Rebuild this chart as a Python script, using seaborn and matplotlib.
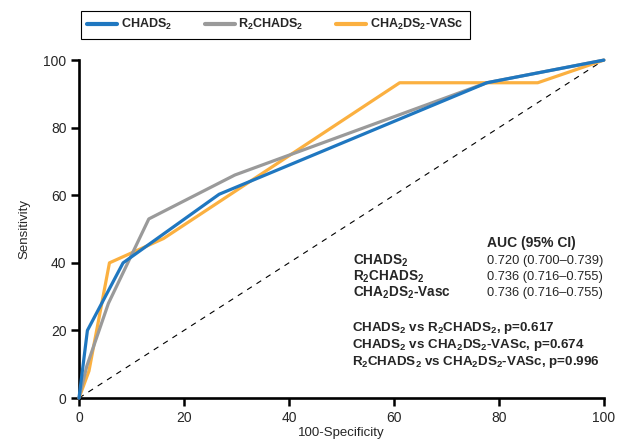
import numpy as np
import pandas as pd
import matplotlib
matplotlib.use("Agg")
import matplotlib.pyplot as plt
import seaborn as sns

#%% data
chads_x = [0, 1.6, 8.4, 26.7, 77.7, 100]
chads_y = [0, 20, 40, 60.3, 93.3, 100]

r2chads_x = [0, 1.5, 5.6, 13.3, 29.7, 77.7, 100]
r2chads_y = [0, 9.5, 28, 53, 66, 93.3, 100]

vasc_x = [0, 1.9, 5.8, 16.1, 61.1, 87.4, 100]
vasc_y = [0, 8, 40, 47.2, 93.3, 93.3, 100]

auc_labels = ["CHADS$_\\mathbf{2}$", "R$_\\mathbf{2}$CHADS$_\\mathbf{2}$", "CHA$_\\mathbf{2}$DS$_\\mathbf{2}$-Vasc"]
auc_values = ["0.720 (0.700\u20130.739)", "0.736 (0.716\u20130.755)", "0.736 (0.716\u20130.755)"]
comparisons = [
    "CHADS$_\\mathbf{2}$ vs R$_\\mathbf{2}$CHADS$_\\mathbf{2}$, p=0.617",
    "CHADS$_\\mathbf{2}$ vs CHA$_\\mathbf{2}$DS$_\\mathbf{2}$-VASc, p=0.674",
    "R$_\\mathbf{2}$CHADS$_\\mathbf{2}$ vs CHA$_\\mathbf{2}$DS$_\\mathbf{2}$-VASc, p=0.996",
]

series_names = ["CHADS$_\\mathbf{2}$", "R$_\\mathbf{2}$CHADS$_\\mathbf{2}$", "CHA$_\\mathbf{2}$DS$_\\mathbf{2}$-VASc"]
colors = ["#1f77c0", "#9a9a9a", "#fbb040"]

#%% style
sns.set_style("ticks")
plt.rcParams["font.family"] = ["Liberation Sans", "DejaVu Sans"]
plt.rcParams["mathtext.fontset"] = "custom"
plt.rcParams["mathtext.rm"] = "Liberation Sans"
plt.rcParams["mathtext.bf"] = "Liberation Sans:bold"

fig = plt.figure(figsize=(6.29, 4.42), dpi=100)
ax = fig.add_axes([0.1256, 0.0995, 0.8344, 0.7645])

df_chads = pd.DataFrame({"x": chads_x, "y": chads_y})
df_r2 = pd.DataFrame({"x": r2chads_x, "y": r2chads_y})
df_vasc = pd.DataFrame({"x": vasc_x, "y": vasc_y})

# reference line
ax.plot([0, 100], [0, 100], color="black", lw=0.8, linestyle=(0, (5, 5)), zorder=1)

# draw order: orange, gray, blue on top
sns.lineplot(data=df_vasc, x="x", y="y", color=colors[2], lw=2.3, estimator=None, sort=False,
             label=series_names[2], ax=ax, zorder=2, clip_on=False)
sns.lineplot(data=df_r2, x="x", y="y", color=colors[1], lw=2.3, estimator=None, sort=False,
             label=series_names[1], ax=ax, zorder=3, clip_on=False)
sns.lineplot(data=df_chads, x="x", y="y", color=colors[0], lw=2.3, estimator=None, sort=False,
             label=series_names[0], ax=ax, zorder=4, clip_on=False)

ax.set_xlim(0, 100)
ax.set_ylim(0, 100)
ax.set_xticks(np.arange(0, 101, 20))
ax.set_yticks(np.arange(0, 101, 20))
ax.tick_params(axis="both", length=6, width=1.8, labelsize=10, pad=3, color="black")
for side in ["left", "bottom"]:
    ax.spines[side].set_linewidth(1.9)
    ax.spines[side].set_color("black")
sns.despine(ax=ax)
ax.set_xlabel("100-Specificity", fontsize=9.5, labelpad=2)
ax.set_ylabel("Sensitivity", fontsize=9.5, labelpad=9)

# legend above the axes, not inside
handles, labels = ax.get_legend_handles_labels()
ax.get_legend().remove()
order = [2, 1, 0]
leg = fig.legend([handles[i] for i in order], [labels[i] for i in order],
                 loc="upper left", bbox_to_anchor=(81 / 629, 1 - 11 / 442), ncol=3,
                 frameon=True, fancybox=False, edgecolor="black", framealpha=1,
                 handlelength=2.4, handletextpad=0.3, columnspacing=2.6,
                 borderpad=0.5, borderaxespad=0, prop={"weight": "bold", "size": 9})
leg.get_frame().set_linewidth(0.8)
for line in leg.get_lines():
    line.set_linewidth(3)

# AUC table
ax.text(77.8, 46, "AUC (95% CI)", fontsize=10, fontweight="bold", va="center", ha="left")
auc_rows_y = [40.6, 35.9, 31.2]
for lab, val, yy in zip(auc_labels, auc_values, auc_rows_y):
    ax.text(52.2, yy, lab, fontsize=9.8, fontweight="bold", va="center", ha="left")
    ax.text(77.8, yy, val, fontsize=9.3, va="center", ha="left")

comp_rows_y = [20.6, 15.7, 10.8]
for txt, yy in zip(comparisons, comp_rows_y):
    ax.text(52.0, yy, txt, fontsize=9.6, fontweight="bold", va="center", ha="left")

fig.savefig("out.png", dpi=100)
